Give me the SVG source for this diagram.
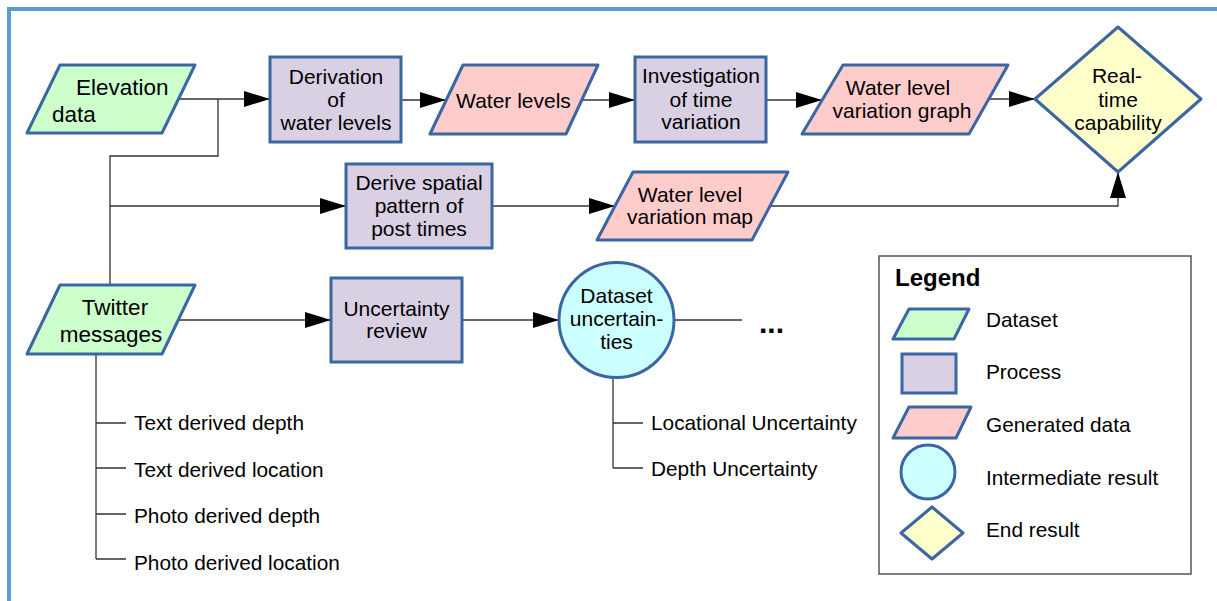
<svg xmlns="http://www.w3.org/2000/svg" width="1217" height="601" viewBox="0 0 1217 601">
<defs>
<style>
text{font-family:"Liberation Sans",Arial,sans-serif;fill:#000}
.n{font-size:21px;text-anchor:middle}
.d{font-size:22.5px}
.s{font-size:20.8px}
.ds{fill:#ccffcc;stroke:#3a66a3;stroke-width:3;stroke-linejoin:round}
.pr{fill:#d9d1e3;stroke:#3a66a3;stroke-width:3}
.gd{fill:#ffcccc;stroke:#3a66a3;stroke-width:3;stroke-linejoin:round}
.ir{fill:#ccffff;stroke:#3a66a3;stroke-width:3}
.er{fill:#ffffcc;stroke:#3a66a3;stroke-width:3;stroke-linejoin:round}
.c{fill:none;stroke:#333;stroke-width:1.3}
</style>
<marker id="ah" markerUnits="userSpaceOnUse" markerWidth="27" markerHeight="17" refX="26" refY="8" orient="auto">
<path d="M0,0 L26,8 L0,16 z" fill="#000"/>
</marker>
</defs>
<rect width="1217" height="601" fill="#fff"/>
<rect x="9" y="9" width="1230" height="620" fill="none" stroke="#5b9bd5" stroke-width="4"/>

<g id="connectors">
<path class="c" d="M178,99 H270" marker-end="url(#ah)"/>
<path class="c" d="M218,99 V156 H110 V285"/>
<path class="c" d="M110,206 H346" marker-end="url(#ah)"/>
<path class="c" d="M401,100 H446" marker-end="url(#ah)"/>
<path class="c" d="M582,100 H635" marker-end="url(#ah)"/>
<path class="c" d="M766,100 H822" marker-end="url(#ah)"/>
<path class="c" d="M987,99 H1035" marker-end="url(#ah)"/>
<path class="c" d="M492,206 H615" marker-end="url(#ah)"/>
<path class="c" d="M770,206 H1118 V172" marker-end="url(#ah)"/>
<path class="c" d="M178,320 H331" marker-end="url(#ah)"/>
<path class="c" d="M462,320 H559" marker-end="url(#ah)"/>
<path class="c" d="M674,320 H742"/>
<path class="c" d="M96,354 V559 M96,423 H126 M96,468 H126 M96,514 H126 M96,559 H126"/>
<path class="c" d="M613,377 V468 M613,423 H643 M613,468 H643"/>
</g>

<g id="elevation">
<polygon class="ds" points="60,65 195,65 162,133 27,133"/>
<text class="d" x="76" y="95">Elevation</text>
<text class="d" x="52" y="122">data</text>
</g>
<g id="derivation">
<rect class="pr" x="270" y="57" width="131" height="85"/>
<text class="n" x="336" y="84">Derivation</text>
<text class="n" x="336" y="107">of</text>
<text class="n" x="336" y="130">water levels</text>
</g>
<g id="water-levels">
<polygon class="gd" points="463,65 598,65 566,134 430,134"/>
<text class="n" x="513.5" y="108">Water levels</text>
</g>
<g id="investigation">
<rect class="pr" x="635" y="57" width="131" height="85"/>
<text class="n" x="701" y="83">Investigation</text>
<text class="n" x="701" y="107">of time</text>
<text class="n" x="701" y="129">variation</text>
</g>
<g id="wlv-graph">
<polygon class="gd" points="843,65 1008,65 969,134 802,134"/>
<text class="n" x="898" y="95">Water level</text>
<text class="n" x="902" y="118">variation graph</text>
</g>
<g id="realtime">
<polygon class="er" points="1035,99 1118,27 1201,99 1118,172"/>
<text class="n" x="1117" y="83">Real-</text>
<text class="n" x="1118" y="107">time</text>
<text class="n" x="1118" y="130">capability</text>
</g>
<g id="derive-spatial">
<rect class="pr" x="346" y="164" width="146" height="84"/>
<text class="n" x="419" y="190">Derive spatial</text>
<text class="n" x="419" y="213">pattern of</text>
<text class="n" x="419" y="236">post times</text>
</g>
<g id="wlv-map">
<polygon class="gd" points="633,172 788,172 752,240 597,240"/>
<text class="n" x="690" y="202">Water level</text>
<text class="n" x="690" y="224">variation map</text>
</g>
<g id="twitter">
<polygon class="ds" points="60,285 195,285 162,354 27,354"/>
<text class="d" x="115" y="315" text-anchor="middle">Twitter</text>
<text class="d" x="111" y="342" text-anchor="middle">messages</text>
</g>
<g id="twitter-attrs">
<text class="s" x="134" y="430">Text derived depth</text>
<text class="s" x="134" y="477">Text derived location</text>
<text class="s" x="134" y="523">Photo derived depth</text>
<text class="s" x="134" y="570">Photo derived location</text>
</g>
<g id="uncertainty-review">
<rect class="pr" x="331" y="278" width="131" height="84"/>
<text class="n" x="396.5" y="316">Uncertainty</text>
<text class="n" x="396.5" y="338">review</text>
</g>
<g id="dataset-uncertainties">
<circle class="ir" cx="616.5" cy="320" r="57.5"/>
<text class="n" x="616.5" y="303">Dataset</text>
<text class="n" x="616.5" y="326">uncertain-</text>
<text class="n" x="616.5" y="349">ties</text>
</g>
<g id="uncertainty-attrs">
<text class="s" x="651" y="430">Locational Uncertainty</text>
<text class="s" x="651" y="476">Depth Uncertainty</text>
</g>
<g id="ellipsis">
<text x="759" y="333" style="font-size:30px;font-weight:bold">...</text>
</g>

<g id="legend">
<rect x="879" y="256" width="312" height="318" fill="#fff" stroke="#555" stroke-width="1.5"/>
<text x="895" y="286" style="font-size:24px;font-weight:bold">Legend</text>
<polygon class="ds" points="909,309 969,309 954,339 893,339"/>
<text class="s" x="986" y="327">Dataset</text>
<rect class="pr" x="902" y="354" width="54" height="39"/>
<text class="s" x="986" y="379">Process</text>
<polygon class="gd" points="909,407 971,407 956,438 893,438"/>
<text class="s" x="986" y="432">Generated data</text>
<circle class="ir" cx="928" cy="472" r="27"/>
<text class="s" x="986" y="485">Intermediate result</text>
<polygon class="er" points="901,533 932,507 963,533 932,559"/>
<text class="s" x="986" y="537">End result</text>
</g>
</svg>
